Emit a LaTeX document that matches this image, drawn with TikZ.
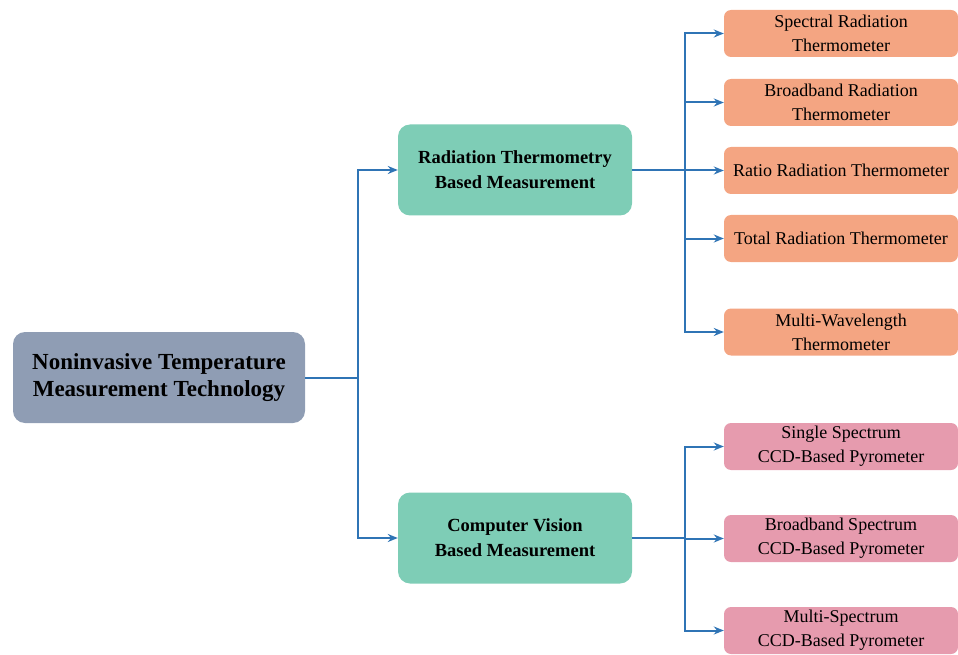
\documentclass[tikz,border=0pt]{standalone}
\usepackage{fontspec}
\setmainfont{Liberation Serif}
\usetikzlibrary{arrows.meta}
\definecolor{rootc}{HTML}{8F9DB4}
\definecolor{midc}{HTML}{7ECDB6}
\definecolor{orc}{HTML}{F4A582}
\definecolor{pkc}{HTML}{E69BAE}
\definecolor{linec}{HTML}{2F74B5}
\begin{document}
\begin{tikzpicture}[x=1pt,y=-1pt,
  rootbox/.style={fill=rootc,rounded corners=12pt,minimum width=292pt,minimum height=91pt,align=center,font=\fontsize{23}{27}\selectfont\bfseries,inner sep=0pt},
  midbox/.style={fill=midc,rounded corners=12pt,minimum width=234pt,minimum height=91pt,align=center,font=\fontsize{18.5}{25}\selectfont\bfseries,inner sep=0pt},
  leafo/.style={fill=orc,rounded corners=7pt,minimum width=234pt,minimum height=47pt,align=center,font=\fontsize{18}{24}\selectfont,inner sep=0pt},
  leafp/.style={fill=pkc,rounded corners=7pt,minimum width=234pt,minimum height=47pt,align=center,font=\fontsize{18}{24}\selectfont,inner sep=0pt},
  conn/.style={draw=linec,line width=2pt},
  arr/.style={conn,-{Stealth[length=10pt,width=8pt]}}]
\useasboundingbox (0,0) rectangle (958,655);
\node[rootbox] (root) at (159,377.5) {Noninvasive Temperature\\Measurement Technology};
\node[midbox] (rad) at (515,170) {Radiation Thermometry\\Based Measurement};
\node[midbox] (cv) at (515,538) {Computer Vision\\Based Measurement};
\node[leafo] (l1) at (841,33.5) {Spectral Radiation\\Thermometer};
\node[leafo] (l2) at (841,102.5) {Broadband Radiation\\Thermometer};
\node[leafo] (l3) at (841,170.5) {Ratio Radiation Thermometer};
\node[leafo] (l4) at (841,238.5) {Total Radiation Thermometer};
\node[leafo] (l5) at (841,332) {Multi-Wavelength\\Thermometer};
\node[leafp] (p1) at (841,446.5) {Single Spectrum\\CCD-Based Pyrometer};
\node[leafp] (p2) at (841,538.5) {Broadband Spectrum\\CCD-Based Pyrometer};
\node[leafp] (p3) at (841,630.5) {Multi-Spectrum\\CCD-Based Pyrometer};
\coordinate (j0) at (358,377.5);
\coordinate (j1) at (685,170);
\coordinate (j2) at (685,538);
\draw[conn] (root.east) -- (j0);
\draw[arr] (j0) |- (rad.west);
\draw[arr] (j0) |- (cv.west);
\draw[conn] (rad.east) -- (j1);
\draw[conn] (cv.east) -- (j2);
\foreach \n in {l1,l2,l3,l4,l5} \draw[arr] (j1) |- (\n.west);
\foreach \n in {p1,p2,p3} \draw[arr] (j2) |- (\n.west);
\end{tikzpicture}
\end{document}
